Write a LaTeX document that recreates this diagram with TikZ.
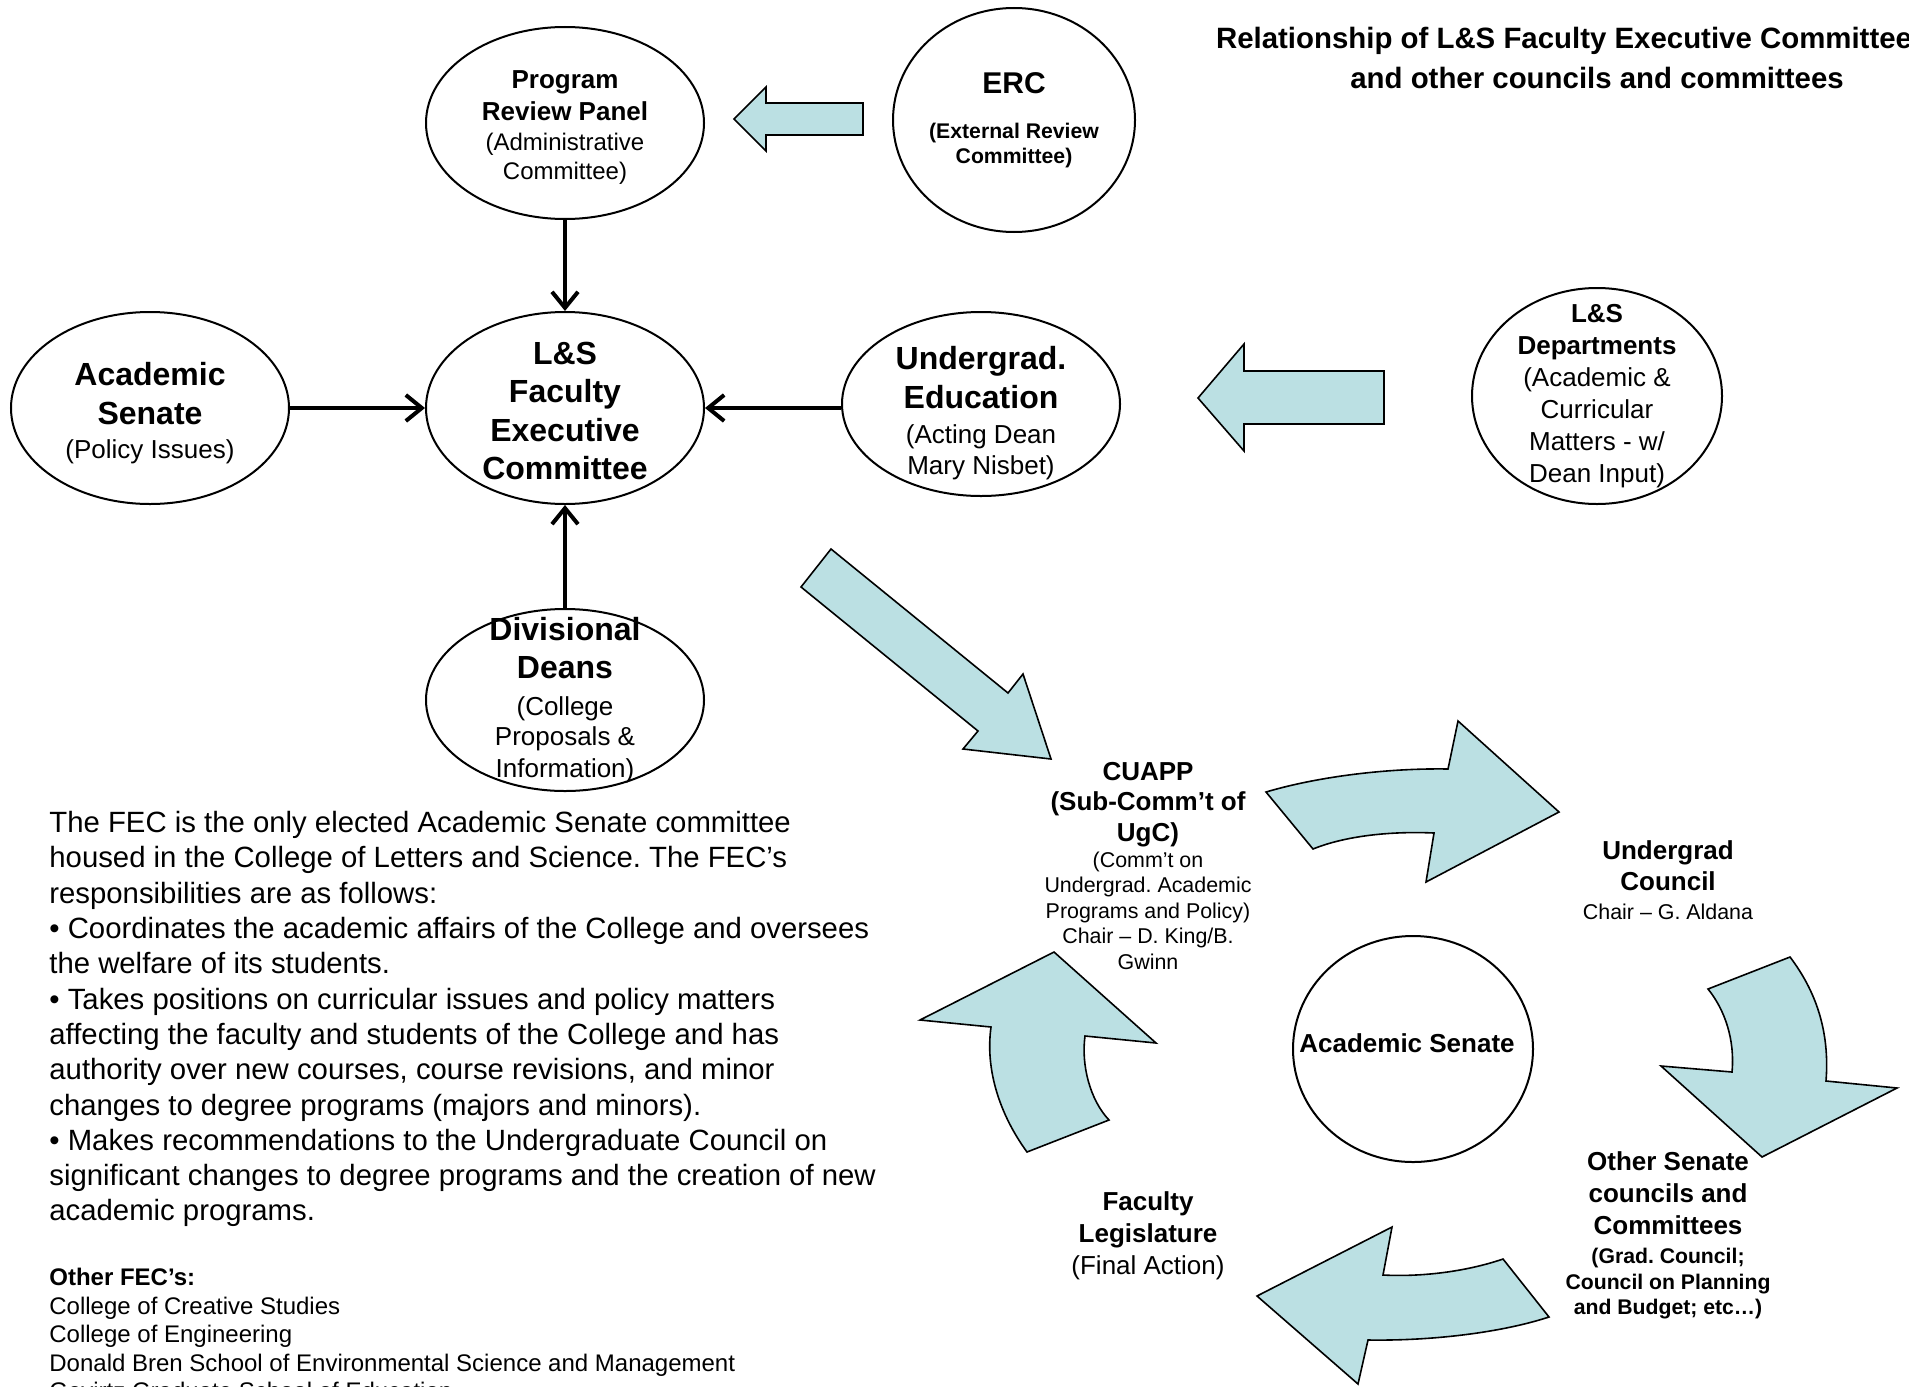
\documentclass[tikz,border=0pt]{standalone}
\usepackage{fontspec}
\setmainfont{Liberation Sans}
\usetikzlibrary{shapes.geometric,arrows.meta}

\definecolor{paleteal}{RGB}{187,224,227}
\newcommand{\fbig}{\fontsize{16}{19.3}\selectfont\bfseries}
\newcommand{\fmidb}{\fontsize{13}{16}\selectfont\bfseries}
\newcommand{\fmidr}{\fontsize{13}{16}\selectfont\mdseries}
\newcommand{\fsubr}{\fontsize{12}{14.8}\selectfont\mdseries}
\newcommand{\fsmb}{\fontsize{10.6}{12.6}\selectfont\bfseries}
\newcommand{\fsmr}{\fontsize{10.7}{12.8}\selectfont\mdseries}

\tikzset{
  bubble/.style={draw, line width=1pt, ellipse, inner sep=0pt},
  txt/.style={align=center, inner sep=0pt},
  blockarrow/.style={draw, line width=0.8pt, fill=paleteal, line join=miter},
  link/.style={line width=2pt, -{Straight Barb[length=8pt,width=13pt]}},
}

\begin{document}
\frenchspacing
\begin{tikzpicture}[x=0.5pt,y=-0.5pt]
	\useasboundingbox (0,0) rectangle (1909,1386);
	
	%Shape: Ellipse
	\node [bubble, minimum width=139pt, minimum height=96pt] (prp) at (565,123) {};
	%Shape: Ellipse
	\node [bubble, minimum width=121pt, minimum height=112pt] (erc) at (1014,120) {};
	%Shape: Ellipse
	\node [bubble, minimum width=139pt, minimum height=96pt] (fec) at (565,408) {};
	%Shape: Ellipse
	\node [bubble, minimum width=139pt, minimum height=96pt] (acs) at (150,408) {};
	%Shape: Ellipse
	\node [bubble, minimum width=139pt, minimum height=92pt] (ue) at (981,404) {};
	%Shape: Ellipse
	\node [bubble, minimum width=125pt, minimum height=108pt] (lsd) at (1597,396) {};
	%Shape: Ellipse
	\node [bubble, minimum width=139pt, minimum height=91pt] (dd) at (565,700) {};
	%Shape: Ellipse
	\node [bubble, minimum width=120pt, minimum height=113pt] (senate) at (1413,1049) {};
	
	%Straight Lines
	\draw [link] (prp) -- (fec);
	\draw [link] (acs) -- (fec);
	\draw [link] (ue.west |- fec) -- (fec);
	\draw [link] (dd) -- (fec);
	
	%Shape: Left Arrow
	\draw [blockarrow] (863,103) -- (766,103) -- (766,87) -- (734,119) -- (766,151) -- (766,135) -- (863,135) -- cycle ;
	%Shape: Left Arrow
	\draw [blockarrow] (1384,371) -- (1244,371) -- (1244,344) -- (1198,398) -- (1244,451) -- (1244,424) -- (1384,424) -- cycle ;
	%Shape: Right Arrow
	\draw [blockarrow] (801,587) -- (831,549) -- (1008,693) -- (1023,674) -- (1051,759) -- (963,749) -- (978,731) -- cycle ;
	%Curve Arrows
	\draw [blockarrow] (1266,792) .. controls (1320,776) and (1390,768) .. (1448,769) -- (1458,721) -- (1559,812) -- (1426,882) -- (1434,833) .. controls (1390,831) and (1345,836) .. (1313,849) -- cycle ;
	\draw [blockarrow] (1708,989) -- (1790,957) .. controls (1815,990) and (1830,1030) .. (1826,1081) -- (1897,1088) -- (1762,1157) -- (1661,1066) -- (1732,1072) .. controls (1735,1040) and (1725,1010) .. (1708,989) -- cycle ;
	\draw [blockarrow] (1503,1259) -- (1549,1317) .. controls (1500,1333) and (1430,1341) .. (1368,1340) -- (1358,1384) -- (1257,1296) -- (1392,1227) -- (1383,1275) .. controls (1420,1277) and (1465,1272) .. (1503,1259) -- cycle ;
	\draw [blockarrow] (1027,1152) -- (1109,1120) .. controls (1090,1100) and (1081,1065) .. (1085,1036) -- (1156,1043) -- (1054,952) -- (920,1020) -- (991,1027) .. controls (985,1070) and (1000,1115) .. (1027,1152) -- cycle ;
	
	% Text Node
	\node [txt, font=\fmidb] (prptext) at (565,128) {Program\\ Review Panel\\[-1pt] \fsubr (Administrative\\[-1.5pt] \fsubr Committee)};
	% Text Node
	\node [txt, font=\fsmb] (erctext) at (1014,120) {\fontsize{15}{18}\selectfont ERC\\[9.9pt] (External Review\\ Committee)};
	% Text Node
	\node [txt, font=\fbig] (fectext) at (565,411) {L\&S\\ Faculty\\ Executive\\ Committee};
	% Text Node
	\node [txt, font=\fbig] (acstext) at (150,413) {Academic\\ Senate\\[-2.3pt] \fmidr (Policy Issues)};
	% Text Node
	\node [txt, font=\fbig] (uetext) at (981,413) {Undergrad.\\ Education\\[-1.8pt] \fmidr (Acting Dean\\[-3.8pt] \fmidr Mary Nisbet)};
	% Text Node
	\node [txt, font=\fmidr] (lsdtext) at (1597,396) {\bfseries L\&S\\ \bfseries Departments\\ (Academic \&\\ Curricular\\ Matters - w/\\ Dean Input)};
	% Text Node
	\node [txt, font=\fbig] (ddtext) at (565,700) {Divisional\\ Deans\\[-0.8pt] \fmidr (College\\[-4.3pt] \fmidr Proposals \&\\[-3.3pt] \fmidr Information)};
	% Text Node
	\node [txt, font=\fmidb] (senatetext) at (1407,1043) {Academic Senate};
	% Text Node
	\node [txt, font=\fsmr] (cuapp) at (1148,866) {\fmidb CUAPP\\[2.2pt] \fmidb (Sub-Comm’t of\\[2.7pt] \fmidb UgC)\\ (Comm’t on\\ Undergrad. Academic\\ Programs and Policy)\\ Chair – D. King/B.\\ Gwinn};
	% Text Node
	\node [txt, font=\fmidb] (ugc) at (1668,880) {Undergrad\\[-0.5pt] Council\\[-1.5pt] \fsmr Chair – G. Aldana};
	% Text Node
	\node [txt, font=\fmidb] (others) at (1668,1235) {Other Senate\\ councils and\\ Committees\\[-1.5pt] \fsmb (Grad. Council;\\[-3pt] \fsmb Council on Planning\\[-3.5pt] \fsmb and Budget; etc…)};
	% Text Node
	\node [txt, font=\fmidb] (legis) at (1148,1236) {Faculty\\ Legislature\\ \fmidr (Final Action)};
	
	% Text Node
	\node [txt, font=\fontsize{14.7}{19}\selectfont\bfseries] (title) at (1564,41) {Relationship of L\&S Faculty Executive Committee};
	% Text Node
	\node [txt, font=\fontsize{14.7}{19}\selectfont\bfseries] (subtitle) at (1597,78) {and other councils and committees};
	% Text Node
	\node [anchor=north west, inner sep=0pt, align=left, font=\fontsize{14.66}{17.65}\selectfont] (fecinfo) at (49,811) {The FEC is the only elected Academic Senate committee\\ housed in the College of Letters and Science. The FEC's\\ responsibilities are as follows:\\ • Coordinates the academic affairs of the College and oversees\\ the welfare of its students.\\ • Takes positions on curricular issues and policy matters\\ affecting the faculty and students of the College and has\\ authority over new courses, course revisions, and minor\\ changes to degree programs (majors and minors).\\ • Makes recommendations to the Undergraduate Council on\\ significant changes to degree programs and the creation of new\\ academic programs.};
	% Text Node
	\node [anchor=north west, inner sep=0pt, align=left, font=\fontsize{12}{14.2}\selectfont] (otherfec) at (49,1268) {\textbf{Other FEC’s:}\\ College of Creative Studies\\ College of Engineering\\ Donald Bren School of Environmental Science and Management\\ Gevirtz Graduate School of Education};
	
\end{tikzpicture}
\end{document}
